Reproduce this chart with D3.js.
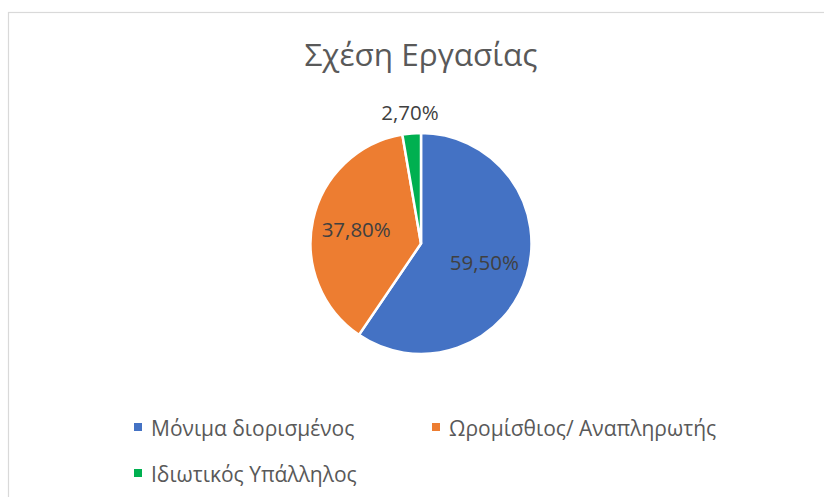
<!DOCTYPE html>
<html><head><meta charset="utf-8">
<script src="https://cdn.jsdelivr.net/npm/d3@7"></script>
<style>body{margin:0;background:#fff;}svg{display:block;}</style>
</head><body><svg id="c" width="824" height="497"></svg>
<script>
const categories = ["Μόνιμα διορισμένος", "Ωρομίσθιος/ Αναπληρωτής", "Ιδιωτικός Υπάλληλος"];
const values = [59.5, 37.8, 2.7];
const labels = ["59,50%", "37,80%", "2,70%"];
const colors = ["#4472C4", "#ED7D31", "#00B050"];
const title = "Σχέση Εργασίας";

const svg = d3.select("#c");
const font = "'Segoe UI','Open Sans','Noto Sans',sans-serif";
svg.append("rect").attr("x",8.5).attr("y",12.5).attr("width",830).attr("height",500)
  .attr("fill","#fff").attr("stroke","#d9d9d9").attr("stroke-width",1.2);

svg.append("text").attr("x",421).attr("y",66).attr("text-anchor","middle")
  .attr("font-family",font).attr("font-size",31.5).attr("fill","#595959").text(title);

const cx = 421, cy = 243.5, R = 110.5;
const pie = d3.pie().sort(null).value(d=>d)(values);
const arc = d3.arc().innerRadius(0).outerRadius(R);
const g = svg.append("g").attr("transform",`translate(${cx},${cy})`);
g.selectAll("path").data(pie).join("path")
  .attr("d",arc).attr("fill",(d,i)=>colors[i]).attr("stroke","#fff").attr("stroke-width",2.5)
  .attr("stroke-linejoin","miter");

const inLabel = d3.arc().innerRadius(R*0.6).outerRadius(R*0.6);
const outLabel = d3.arc().innerRadius(R*1.19).outerRadius(R*1.19);
g.selectAll("text").data(pie).join("text")
  .attr("transform",(d,i)=>{const c=(i===2?outLabel:inLabel).centroid(d);return `translate(${c[0]},${c[1]})`;})
  .attr("text-anchor","middle").attr("dy","0.36em")
  .attr("font-family",font).attr("font-size",20.5).attr("fill","#404040")
  .text((d,i)=>labels[i]);

const legendPos = [[134,436],[432,436],[134,482]];
const lg = svg.append("g");
categories.forEach((c,i)=>{
  const [x,y]=legendPos[i];
  lg.append("rect").attr("x",x).attr("y",y-13).attr("width",8).attr("height",8).attr("fill",colors[i]);
  lg.append("text").attr("x",x+17).attr("y",y).attr("font-family",font).attr("font-size",21)
    .attr("fill","#595959").text(c);
});
</script></body></html>
